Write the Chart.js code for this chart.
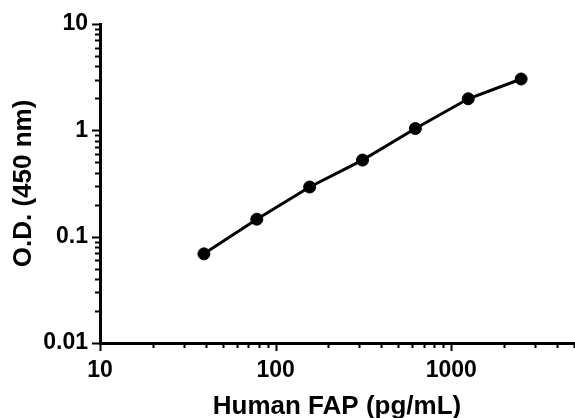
<!DOCTYPE html>
<html>
<head>
<meta charset="utf-8">
<script src="https://cdn.jsdelivr.net/npm/chart.js@4.4.1/dist/chart.umd.min.js"></script>
<style>
    html, body { margin: 0; padding: 0; background: #ffffff; overflow: hidden; }
    #wrap { width: 575px; height: 418px; }
</style>
</head>
<body>
<div id="wrap"><canvas id="chart"></canvas></div>
<script>
// standard curve
const concentrations = [39.06, 78.13, 156.25, 312.5, 625, 1250, 2500];
const odValues = [0.0689, 0.146, 0.293, 0.525, 1.04, 1.98, 3.04];

const xTickLabels = [10, 100, 1000];
const yTickLabels = [0.01, 0.1, 1, 10];
const xRange = [10, 5000];
const yRange = [0.01, 10];

const FONT = "'Liberation Sans', Arial, sans-serif";

// every 1..9 x 10^k between min and max, labelled ones flagged major
function logTicks(min, max, labelled) {
    const ticks = [];
    for (let k = Math.floor(Math.log10(min)); k <= Math.ceil(Math.log10(max)); k++) {
        for (let d = 1; d <= 9; d++) {
            const v = Number((d * Math.pow(10, k)).toPrecision(6));
            if (v >= min - 1e-12 && v <= max + 1e-9) {
                ticks.push({ value: v, major: labelled.some(l => Math.abs(l - v) < 1e-9) });
            }
        }
    }
    return ticks;
}

// short outward tick marks, majors longer
const tickMarks = {
    id: 'tickMarks',
    afterDraw(chart) {
        const ctx = chart.ctx;
        const xs = chart.scales.x;
        const ys = chart.scales.y;
        ctx.save();
        ctx.strokeStyle = '#000000';
        ctx.lineWidth = 2;
        ctx.beginPath();
        xs.ticks.forEach(t => {
            const px = Math.round(xs.getPixelForValue(t.value)) + 0.5;
            const len = t.major ? 8 : 5;
            ctx.moveTo(px, xs.top);
            ctx.lineTo(px, xs.top + len);
        });
        ys.ticks.forEach(t => {
            const py = Math.round(ys.getPixelForValue(t.value)) + 0.5;
            const len = t.major ? 8 : 5;
            ctx.moveTo(ys.right, py);
            ctx.lineTo(ys.right - len, py);
        });
        ctx.stroke();
        ctx.restore();
    }
};

const ctx = document.getElementById('chart').getContext('2d');
const chart = new Chart(ctx, {
    type: 'line',
    data: {
        datasets: [{
            data: concentrations.map((c, i) => ({ x: c, y: odValues[i] })),
            borderColor: '#000000',
            backgroundColor: '#000000',
            borderWidth: 3,
            pointRadius: 6,
            pointHoverRadius: 6,
            pointBorderWidth: 1,
            tension: 0,
            fill: false,
        }],
    },
    options: {
        responsive: true,
        maintainAspectRatio: false,
        animation: false,
        layout: { autoPadding: false, padding: { top: 24, right: 1, left: 8, bottom: 0 } },
        plugins: {
            legend: { display: false },
            tooltip: { enabled: false },
        },
        scales: {
            x: {
                type: 'logarithmic',
                min: xRange[0],
                max: xRange[1],
                afterBuildTicks: scale => { scale.ticks = logTicks(xRange[0], xRange[1], xTickLabels); },
                afterFit: scale => { scale.height = 75; },
                grid: { display: false, drawTicks: true, tickLength: 14 },
                border: { display: true, color: '#000000', width: 3 },
                ticks: {
                    autoSkip: false,
                    maxRotation: 0,
                    padding: 0,
                    color: '#000000',
                    font: { family: FONT, size: 23, weight: 'bold' },
                    callback: value => xTickLabels.includes(value) ? String(value) : '',
                },
                title: {
                    display: true,
                    text: 'Human FAP (pg/mL)',
                    color: '#000000',
                    padding: { top: 0, bottom: -4 },
                    font: { family: FONT, size: 26, weight: 'bold' },
                },
            },
            y: {
                type: 'logarithmic',
                min: yRange[0],
                max: yRange[1],
                afterBuildTicks: scale => { scale.ticks = logTicks(yRange[0], yRange[1], yTickLabels); },
                afterFit: scale => { scale.width = 92; },
                grid: { display: false, drawTicks: true, tickLength: 12 },
                border: { display: true, color: '#000000', width: 3 },
                ticks: {
                    autoSkip: false,
                    padding: 0,
                    color: '#000000',
                    font: { family: FONT, size: 23, weight: 'bold' },
                    callback: value => yTickLabels.some(l => Math.abs(l - value) < 1e-9) ? String(value) : '',
                },
                title: {
                    display: true,
                    text: 'O.D. (450 nm)',
                    color: '#000000',
                    padding: 0,
                    font: { family: FONT, size: 26, weight: 'bold' },
                },
            },
        },
    },
    plugins: [tickMarks],
});
</script>
</body>
</html>
